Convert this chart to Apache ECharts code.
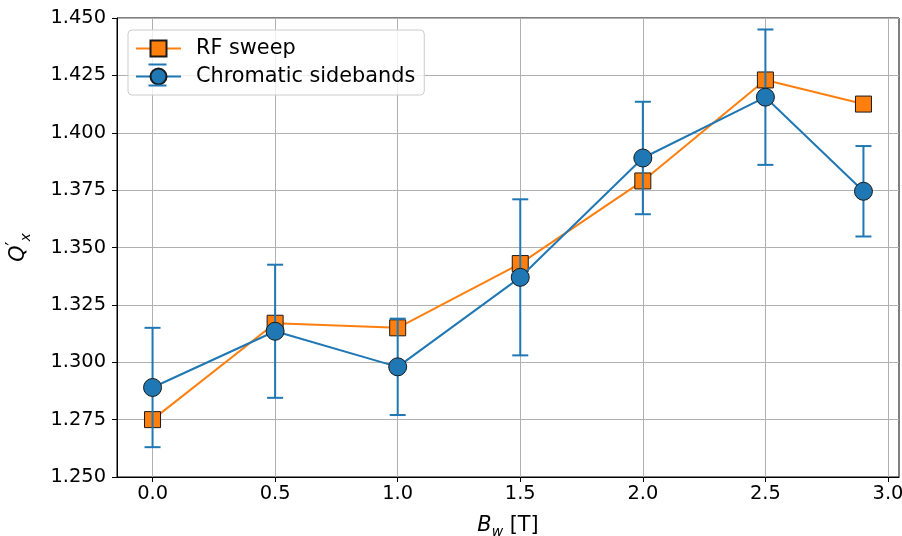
<!DOCTYPE html>
<html><head><meta charset="utf-8">
<script src="https://cdn.jsdelivr.net/npm/echarts@6/dist/echarts.min.js"></script>
<style>html,body{margin:0;padding:0;background:#fff}#c{width:902px;height:536px}</style>
</head><body><div id="c"></div>
<script>
const xs = [0.0, 0.5, 1.0, 1.5, 2.0, 2.5, 2.9];
const rfSweep = [1.275, 1.317, 1.315, 1.343, 1.379, 1.423, 1.4125];
const chromatic = [1.289, 1.3135, 1.298, 1.337, 1.389, 1.4155, 1.3745];
const chromaticErr = [0.026, 0.029, 0.021, 0.034, 0.0245, 0.0295, 0.0197];
const xTicks = [0.0, 0.5, 1.0, 1.5, 2.0, 2.5, 3.0];

const FONT = 'DejaVu Sans';
const TICK = 19.4, BIG = 20.8;
const chart = echarts.init(document.getElementById('c'), null, {renderer: 'canvas'});
const rfData = xs.map((x, i) => [x, rfSweep[i]]);
const csData = xs.map((x, i) => [x, chromatic[i]]);
const errData = xs.map((x, i) => [x, chromatic[i] - chromaticErr[i], chromatic[i] + chromaticErr[i]]);

chart.setOption({
  animation: false,
  backgroundColor: '#fff',
  grid: {left: 117, right: 3, top: 18, bottom: 59, show: true, borderColor: '#000', borderWidth: 1,
         containLabel: false, outerBoundsMode: 'none'},
  legend: {
    orient: 'vertical', left: 128, top: 30,
    data: ['RF sweep', 'Chromatic sidebands'],
    itemWidth: 45, itemHeight: 20, itemGap: 7,
    padding: [8, 9, 8, 7],
    backgroundColor: 'rgba(255,255,255,0.8)', borderColor: '#cccccc', borderWidth: 1, borderRadius: 4,
    textStyle: {fontFamily: FONT, fontSize: BIG, lineHeight: 20, color: '#000', padding: [0, 0, 0, 10]}
  },
  graphic: [
    {type: 'line', z: 100, shape: {x1: 148.5, y1: 64.5, x2: 166.5, y2: 64.5}, style: {stroke: '#1f77b4', lineWidth: 2}},
    {type: 'line', z: 100, shape: {x1: 148.5, y1: 85.5, x2: 166.5, y2: 85.5}, style: {stroke: '#1f77b4', lineWidth: 2}}
  ],
  xAxis: {
    type: 'value', min: -0.145, max: 3.045,
    name: '{i|B}{s|w} [T]', nameLocation: 'middle', nameGap: 36,
    nameTextStyle: {fontFamily: FONT, fontSize: BIG, color: '#000',
      rich: {i: {fontFamily: FONT, fontSize: BIG, fontStyle: 'italic', color: '#000', lineHeight: 26},
             s: {fontFamily: FONT, fontSize: 14, fontStyle: 'italic', color: '#000', verticalAlign: 'bottom'}}},
    axisLine: {onZero: false, lineStyle: {color: '#000', width: 1}},
    axisTick: {show: true, length: 5, lineStyle: {color: '#000'}, customValues: xTicks},
    axisLabel: {fontFamily: FONT, fontSize: TICK, color: '#000', margin: 7, customValues: xTicks,
      formatter: v => v.toFixed(1)},
    splitLine: {show: true, lineStyle: {color: '#b0b0b0', width: 1}}
  },
  yAxis: {
    type: 'value', min: 1.25, max: 1.45, interval: 0.025,
    name: "{q|Q}{p|′}{s|x}", nameLocation: 'middle', nameGap: 84, nameRotate: 90,
    nameTextStyle: {fontFamily: FONT, fontSize: BIG, color: '#000',
      rich: {q: {fontFamily: FONT, fontSize: BIG, fontStyle: 'italic', color: '#000', lineHeight: 28},
             p: {fontFamily: FONT, fontSize: 17, color: '#000', verticalAlign: 'top'},
             s: {fontFamily: FONT, fontSize: 14, fontStyle: 'italic', color: '#000', verticalAlign: 'bottom'}}},
    axisLine: {show: true, onZero: false, lineStyle: {color: '#000', width: 1}},
    axisTick: {show: true, length: 5, lineStyle: {color: '#000'}},
    axisLabel: {fontFamily: FONT, fontSize: TICK, color: '#000', margin: 11, formatter: v => v.toFixed(3)},
    splitLine: {show: true, lineStyle: {color: '#b0b0b0', width: 1}}
  },
  series: [
    {
      name: 'RF sweep', type: 'line', data: rfData, z: 2,
      symbol: 'rect', symbolSize: 16,
      lineStyle: {color: '#ff7f0e', width: 2},
      itemStyle: {color: '#ff7f0e', borderColor: '#1a1a1a', borderWidth: 1},
      emphasis: {disabled: true}
    },
    {
      name: 'errbar', type: 'custom', data: errData, z: 3,
      encode: {x: 0, y: [1, 2]},
      renderItem: (params, api) => {
        const x = api.value(0), lo = api.value(1), hi = api.value(2);
        const a = api.coord([x, hi]), b = api.coord([x, lo]);
        const w = 8;
        const st = {stroke: '#1f77b4', lineWidth: 2};
        return {type: 'group', children: [
          {type: 'line', shape: {x1: a[0], y1: a[1], x2: b[0], y2: b[1]}, style: st},
          {type: 'line', shape: {x1: a[0] - w, y1: a[1], x2: a[0] + w, y2: a[1]}, style: st},
          {type: 'line', shape: {x1: b[0] - w, y1: b[1], x2: b[0] + w, y2: b[1]}, style: st}
        ]};
      }
    },
    {
      name: 'Chromatic sidebands', type: 'line', data: csData, z: 4,
      symbol: 'circle', symbolSize: 18,
      lineStyle: {color: '#1f77b4', width: 2},
      itemStyle: {color: '#1f77b4', borderColor: '#1a1a1a', borderWidth: 1},
      emphasis: {disabled: true}
    }
  ]
});
</script></body></html>
